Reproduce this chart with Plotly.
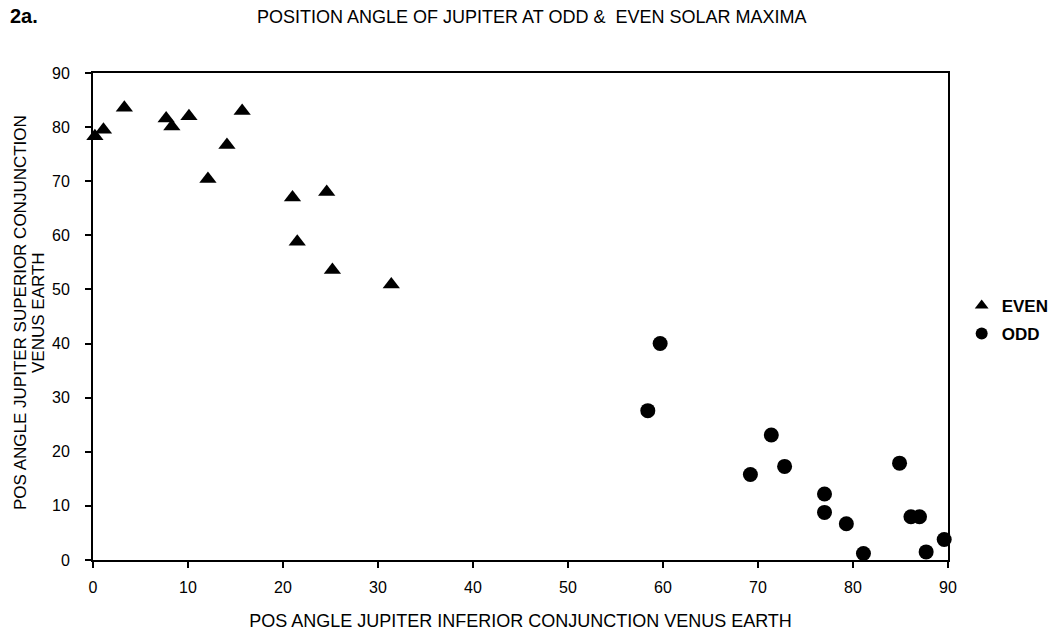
import plotly.graph_objects as go

even_x = [0.2, 1.1, 3.3, 7.7, 8.3, 10.1, 12.1, 14.1, 15.7, 21.0, 21.5, 24.6, 25.2, 31.4]
even_y = [78.3, 79.5, 83.6, 81.6, 80.1, 82.0, 70.4, 76.7, 83.0, 67.0, 58.8, 68.0, 53.6, 50.9]

odd_x = [58.4, 59.7, 69.2, 71.4, 72.8, 77.0, 77.0, 79.3, 81.1, 84.9, 86.1, 87.0, 87.7, 89.6]
odd_y = [27.6, 40.0, 15.8, 23.1, 17.3, 12.2, 8.8, 6.7, 1.2, 17.9, 8.0, 8.0, 1.5, 3.8]

x_ticks = list(range(0, 91, 10))
y_ticks = list(range(0, 91, 10))

y_title_lines = ["POS ANGLE JUPITER SUPERIOR CONJUNCTION", "VENUS EARTH"]

FONT = "Liberation Sans, Arial, sans-serif"

fig = go.Figure()
fig.add_trace(go.Scatter(x=even_x, y=even_y, mode="markers", name="<b>EVEN</b>",
                         marker=dict(symbol="triangle-up", size=15, color="black"),
                         cliponaxis=False, legend="legend"))
fig.add_trace(go.Scatter(x=odd_x, y=odd_y, mode="markers", name="<b>ODD</b>",
                         marker=dict(symbol="circle", size=15, color="black"),
                         cliponaxis=False, legend="legend2"))

leg_common = dict(xanchor="left", yanchor="middle", font=dict(size=17, family=FONT),
                  itemsizing="constant", bgcolor="rgba(0,0,0,0)", itemwidth=30)

PL, PR, PT, PB = 93, 948, 73, 560  # plot area in page pixels
PW, PH = PR - PL, PB - PT

annotations = [
    dict(text="POSITION ANGLE OF JUPITER AT ODD &amp;  EVEN SOLAR MAXIMA",
         xref="paper", yref="paper", x=(531 - PL) / PW, y=1.0, yshift=PT - 17,
         xanchor="center", yanchor="middle", showarrow=False,
         font=dict(size=18, family=FONT)),
    dict(text="<b>2a.</b>", xref="paper", yref="paper", x=0, y=1.0,
         xshift=-PL + 8, yshift=PT - 16, xanchor="left", yanchor="middle",
         showarrow=False, font=dict(size=20, family=FONT)),
]
for line, cx in zip(y_title_lines, [20, 38]):
    annotations.append(dict(text=line, xref="paper", yref="paper",
                            x=0, xshift=cx - PL, y=(PB - 313) / PH,
                            xanchor="center", yanchor="middle", textangle=-90,
                            showarrow=False, font=dict(size=17, family=FONT)))

fig.update_layout(
    width=1063, height=632,
    margin=dict(l=PL, r=1063 - PR, t=PT, b=632 - PB, autoexpand=False),
    paper_bgcolor="white", plot_bgcolor="white",
    font=dict(family=FONT, color="black", size=16),
    showlegend=True,
    legend=dict(x=1.016, y=(PB - 306) / PH, **leg_common),
    legend2=dict(x=1.016, y=(PB - 334) / PH, **leg_common),
    xaxis=dict(range=[0, 90], tickvals=x_ticks, ticks="outside", ticklen=6,
               tickcolor="black", tickwidth=1.5, ticklabelstandoff=6,
               showline=True, linecolor="black", linewidth=2, mirror=True,
               showgrid=False, zeroline=False, automargin=False,
               tickfont=dict(size=16),
               title=dict(text="POS ANGLE JUPITER INFERIOR CONJUNCTION VENUS EARTH",
                          font=dict(size=18), standoff=19)),
    yaxis=dict(range=[0, 90], tickvals=y_ticks, ticks="outside", ticklen=6,
               tickcolor="black", tickwidth=1.5, ticklabelstandoff=12,
               showline=True, linecolor="black", linewidth=2, mirror=True,
               showgrid=False, zeroline=False, automargin=False,
               tickfont=dict(size=16)),
    annotations=annotations,
)

fig.write_html("out.html", config={"displayModeBar": False},
               post_script="document.body.style.margin='0px';")
